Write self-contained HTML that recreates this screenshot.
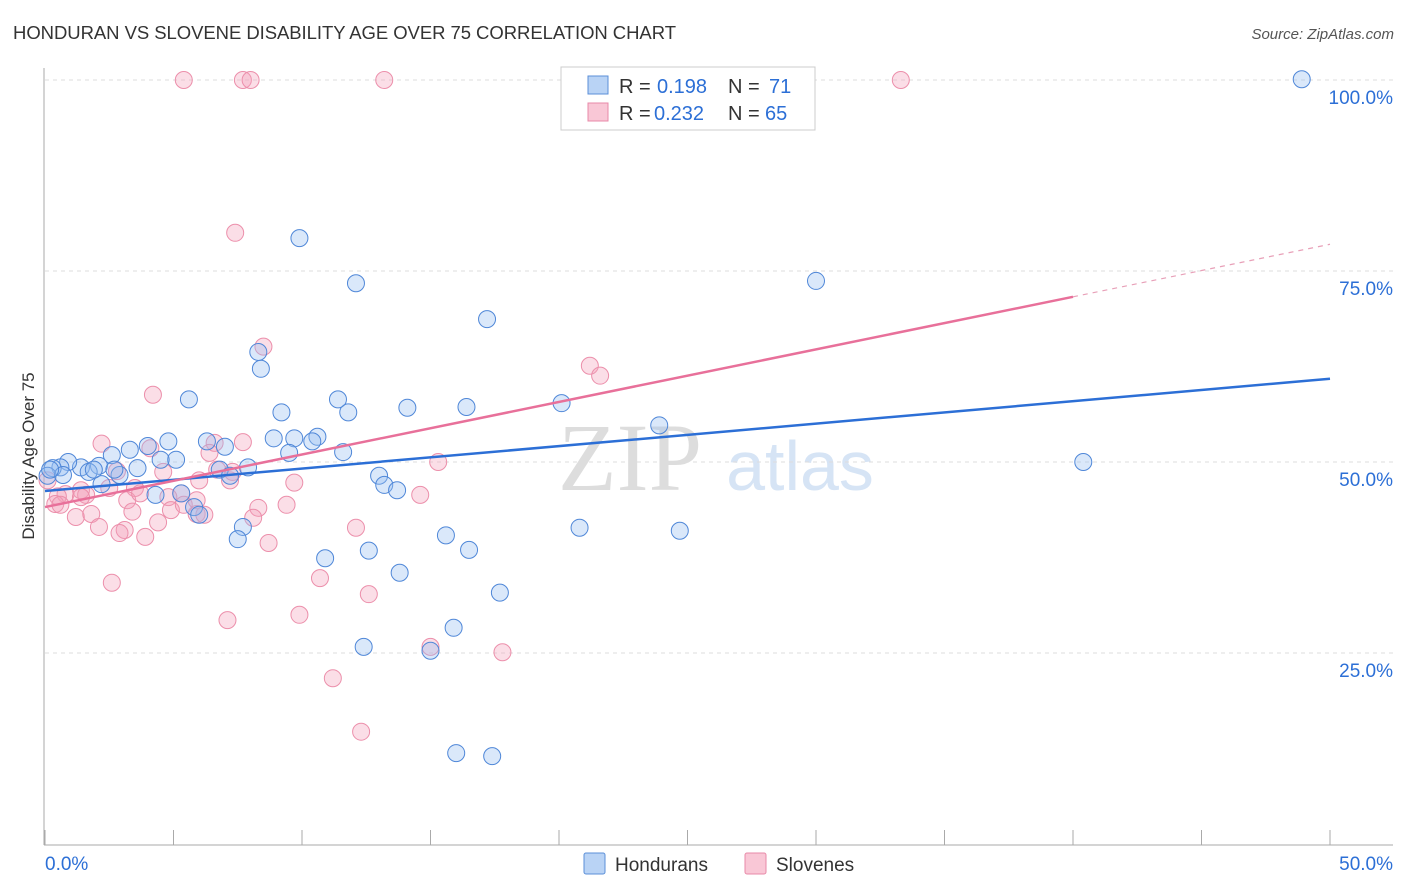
<!DOCTYPE html>
<html><head><meta charset="utf-8"><style>
body{margin:0;background:#fff;font-family:"Liberation Sans",sans-serif}
svg{display:block}
</style></head><body>
<svg id="c" width="1406" height="892">
<text x="13" y="39" font-size="18.5" fill="#333" textLength="663">HONDURAN VS SLOVENE DISABILITY AGE OVER 75 CORRELATION CHART</text>
<text x="1394" y="39" font-size="15" fill="#555" font-style="italic" text-anchor="end">Source: ZipAtlas.com</text>
<text x="34" y="456" font-size="17" fill="#333" text-anchor="middle" transform="rotate(-90 34 456)">Disability Age Over 75</text>
<text x="630" y="490" font-size="96" fill="#ddd" font-family="Liberation Serif,serif" text-anchor="middle">ZIP</text>
<text x="800" y="490" font-size="70" fill="#d6e4f5" text-anchor="middle">atlas</text>
<g id="grid"></g><g id="pts"></g><g id="lines"></g>
<g>
<rect x="561" y="67" width="254" height="63" fill="#fff" stroke="#ccc"/>
<rect x="588" y="76" width="20" height="18" fill="#b9d3f5" stroke="#5b8fd8"/>
<rect x="588" y="103" width="20" height="18" fill="#f9c7d6" stroke="#e88aa8"/>
<text x="619" y="93" font-size="20" fill="#333">R =</text><text x="657" y="93" font-size="20" fill="#2c6fd6">0.198</text>
<text x="728" y="93" font-size="20" fill="#333">N =</text><text x="769" y="93" font-size="20" fill="#2c6fd6">71</text>
<text x="619" y="120" font-size="20" fill="#333">R =</text><text x="654" y="120" font-size="20" fill="#2c6fd6">0.232</text>
<text x="728" y="120" font-size="20" fill="#333">N =</text><text x="765" y="120" font-size="20" fill="#2c6fd6">65</text>
</g>
<g>
<rect x="584" y="853" width="21" height="21" fill="#b9d3f5" stroke="#5b8fd8" rx="2"/>
<text x="615" y="871" font-size="19" fill="#333">Hondurans</text>
<rect x="745" y="853" width="21" height="21" fill="#f9c7d6" stroke="#e88aa8" rx="2"/>
<text x="776" y="871" font-size="19" fill="#333">Slovenes</text>
</g>
<text x="45" y="870" font-size="19" fill="#2c6fd6">0.0%</text>
<text x="1393" y="870" font-size="19" fill="#2c6fd6" text-anchor="end">50.0%</text>
</svg>
<script>
const blueX=[48.9,9.9,12.1,30.0,17.2,8.3,8.4,5.6,11.4,9.2,11.8,14.1,16.4,20.1,23.9,40.4,4.8,6.3,7.0,8.9,9.7,10.6,10.4,11.6,9.5,4.0,3.3,2.6,5.1,4.5,3.6,2.9,2.1,1.4,0.9,0.6,0.3,0.1,1.7,2.2,7.9,6.8,7.2,13.0,13.2,13.7,4.3,5.3,5.8,6.0,7.7,7.5,15.6,20.8,24.7,16.5,10.9,12.6,13.8,17.7,15.9,12.4,15.0,16.0,17.4,0.7,0.2,2.7,1.9];
const blueY=[100.1,79.3,73.4,73.7,68.7,64.4,62.2,58.2,58.2,56.5,56.5,57.1,57.2,57.7,54.8,50.0,52.7,52.7,52.0,53.1,53.1,53.3,52.7,51.3,51.2,52.1,51.6,50.9,50.3,50.3,49.2,48.3,49.5,49.3,50.0,49.3,49.2,48.2,48.7,47.1,49.3,49.0,48.2,48.2,47.0,46.3,45.7,45.9,44.1,43.1,41.5,39.9,40.4,41.4,41.0,38.5,37.4,38.4,35.5,32.9,28.3,25.8,25.3,11.9,11.5,48.3,49.0,49.0,49.0];
const pinkX=[5.4,7.7,8.0,13.2,33.3,7.4,8.5,4.2,21.2,21.6,2.2,4.1,6.6,6.4,7.7,15.3,4.6,2.8,3.5,2.5,9.7,6.0,7.2,5.3,4.8,3.2,1.4,0.8,0.5,0.4,1.2,1.8,2.1,3.4,4.9,5.9,6.2,5.4,8.3,9.4,14.6,4.4,3.1,2.9,3.9,8.1,8.7,12.1,2.6,10.7,12.6,7.1,9.9,15.0,17.8,11.2,12.3,5.9,0.6,1.6,3.7,7.3,6.7,1.4,0.1];
const pinkY=[100,100,100,100,100,80.0,65.1,58.8,62.6,61.3,52.4,51.8,52.5,51.2,52.6,50.0,48.7,48.8,46.6,46.6,47.3,47.6,47.6,45.9,45.4,45.0,46.3,45.8,45.5,44.5,42.8,43.2,41.5,43.5,43.7,43.2,43.1,44.4,44.0,44.4,45.7,42.1,41.1,40.7,40.2,42.7,39.4,41.4,34.2,34.8,32.7,29.3,30.0,25.8,25.1,21.7,14.7,45.0,44.4,45.7,45.9,48.7,49.0,45.4,47.6];
const yTicks=[100,75,50,25];
const yTickLabels=["100.0%","75.0%","50.0%","25.0%"];
const blueTrend=[46.2,60.9];
const pinkTrend=[44.1,78.5];
const pinkSolidEnd=40;
const NS="http://www.w3.org/2000/svg";
const X=v=>45+v/50*1285, Y=v=>844-v*7.64;
function mk(t,a,p){const e=document.createElementNS(NS,t);for(const k in a)e.setAttribute(k,a[k]);p.appendChild(e);return e;}
const g=document.getElementById('grid');
yTicks.forEach((t,i)=>{
 const l=mk('line',{x1:45,x2:1393,y1:Y(t),y2:Y(t),stroke:'#ddd','stroke-dasharray':'4,4'},g);
 
 
 const tx=mk('text',{x:1393,y:Y(t)+24,'font-size':19,fill:'#2c6fd6','text-anchor':'end'},g);
 tx.textContent=yTickLabels[i];
 
 
});
const ax=mk('line',{x1:44,x2:44,y1:68,y2:845,stroke:'#aaa'},g);


const bx=mk('line',{x1:44,x2:1393,y1:845,y2:845,stroke:'#aaa'},g);


for(let i=0;i<=10;i++){const tk=mk('line',{x1:X(i*5),x2:X(i*5),y1:830,y2:845,stroke:'#aaa'},g);
 
 }
const p=document.getElementById('pts');
pinkX.forEach((v,i)=>{const c=mk('circle',{cx:X(v),cy:Y(pinkY[i]),r:8.5,fill:'rgba(244,160,185,0.35)',stroke:'#ec8fab','stroke-width':1},p);
 
 });
blueX.forEach((v,i)=>{const c=mk('circle',{cx:X(v),cy:Y(blueY[i]),r:8.5,fill:'rgba(150,190,240,0.35)',stroke:'#4f87d8','stroke-width':1},p);
 
 });
const L=document.getElementById('lines');
const bl=mk('line',{x1:X(0),y1:Y(blueTrend[0]),x2:X(50),y2:Y(blueTrend[1]),stroke:'#2c6fd6','stroke-width':2.5},L);


const pm=pinkTrend[0]+(pinkTrend[1]-pinkTrend[0])*pinkSolidEnd/50;
const pl=mk('line',{x1:X(0),y1:Y(pinkTrend[0]),x2:X(pinkSolidEnd),y2:Y(pm),stroke:'#e8709a','stroke-width':2.5},L);


const pd=mk('line',{x1:X(pinkSolidEnd),y1:Y(pm),x2:X(50),y2:Y(pinkTrend[1]),stroke:'#e8a0b8','stroke-width':1.2,'stroke-dasharray':'5,5'},L);


</script>
</body></html>
